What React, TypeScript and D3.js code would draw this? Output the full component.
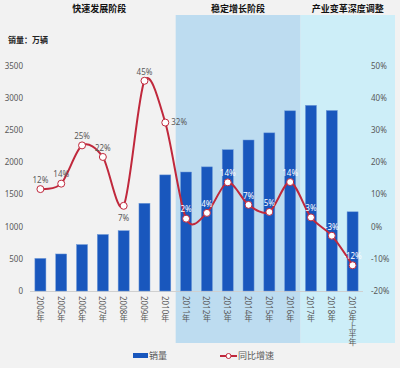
import React, { useEffect } from "react";
import * as d3 from "d3";

const years = ["2004年", "2005年", "2006年", "2007年", "2008年", "2009年", "2010年", "2011年", "2012年", "2013年", "2014年", "2015年", "2016年", "2017年", "2018年", "2019年上半年"];
const sales = [507, 576, 722, 879, 938, 1364, 1806, 1851, 1931, 2198, 2349, 2460, 2803, 2888, 2808, 1232];
const growth = [11.7, 13.4, 25.3, 21.7, 6.5, 45.4, 32.4, 2.5, 4.3, 13.8, 6.8, 4.6, 13.9, 2.9, -2.8, -12.0];
const growthLabels = ["12%", "14%", "25%", "22%", "7%", "45%", "32%", "2%", "4%", "14%", "7%", "5%", "14%", "3%", "-3%", "-12%"];
const leftTicks = [0, 500, 1000, 1500, 2000, 2500, 3000, 3500];
const rightTicks = [-20, -10, 0, 10, 20, 30, 40, 50];
const phases = [
  { name: "快速发展阶段", from: 0, to: 7 },
  { name: "稳定增长阶段", from: 7, to: 13 },
  { name: "产业变革深度调整", from: 13, to: 16 },
];

const W = 400, H = 368;
const plotL = 30, plotR = 363, plotT = 66, plotB = 291;
const font = "'Noto Sans', 'Noto Sans CJK SC', sans-serif";
const gray = "#595959";
const red = "#c0283c";

export default function App() {
  useEffect(() => {
    document.body.style.margin = "0";
  }, []);

  const x = d3.scaleBand().domain(years).range([plotL, plotR]).paddingInner(0.47).paddingOuter(0.235);
  const step = x.step();
  const yL = d3.scaleLinear().domain([0, 3500]).range([plotB, plotT]);
  const yR = d3.scaleLinear().domain([-20, 50]).range([plotB, plotT]);
  const cx = (i: number) => (x(years[i]) as number) + x.bandwidth() / 2;

  const line = d3
    .line<number>()
    .x((_, i) => cx(i))
    .y((d) => yR(d))
    .curve(d3.curveCardinal.tension(0.1));

  const edge = (i: number) => plotL + i * step;
  const phaseBox = (p: { from: number; to: number }, k: number) => {
    const x0 = k === 0 ? 23 : edge(p.from);
    const x1 = p.to === years.length ? plotR + 32 : edge(p.to);
    return [x0, x1];
  };

  const labelPos = (i: number) => {
    if (i === 4) return { dx: 0, dy: 12, anchor: "middle" };
    if (i === 6) return { dx: 6, dy: 0, anchor: "start" };
    return { dx: 0, dy: -9, anchor: "middle" };
  };

  return (
    <svg width={W} height={H} style={{ display: "block", fontFamily: font }}>
      <rect width={W} height={H} fill="#f2f2f2" />
      {phases.map((p, k) => {
        const [x0, x1] = phaseBox(p, k);
        return (
          <g key={p.name}>
            {k > 0 && (
              <rect x={x0} y={15} width={x1 - x0} height={328} fill={k === 1 ? "#bddcf0" : "#cdeef8"} />
            )}
            <text x={(x0 + x1) / 2} y={12} textAnchor="middle" fontSize={9} fontWeight="bold" fill="#111">
              {p.name}
            </text>
          </g>
        );
      })}

      <text x={8} y={43} fontSize={8} fontWeight="bold" fill="#222">销量：万辆</text>

      {leftTicks.map((t) => (
        <text key={t} x={23} y={yL(t)} dy="0.35em" textAnchor="end" fontSize={8} fill={gray}>{t}</text>
      ))}
      {rightTicks.map((t) => (
        <text key={t} x={371} y={yR(t)} dy="0.35em" textAnchor="start" fontSize={8} fill={gray}>{t}%</text>
      ))}

      <line x1={plotL} x2={plotR} y1={plotB + 0.5} y2={plotB + 0.5} stroke="#d0d0d0" />

      {sales.map((v, i) => (
        <rect
          key={years[i]}
          x={x(years[i])}
          y={yL(v)}
          width={x.bandwidth()}
          height={plotB - yL(v)}
          fill="#1957bd"
          stroke="#6f9ad8"
          strokeWidth={0.5}
        />
      ))}

      {years.map((y, i) => (
        <text
          key={y}
          x={cx(i)}
          y={plotB + 5}
          style={{ writingMode: "vertical-rl", textOrientation: "mixed" } as React.CSSProperties}
          fontSize={8}
          fill={gray}
        >
          {y}
        </text>
      ))}

      <path d={line(growth) as string} fill="none" stroke={red} strokeWidth={2} />
      {growth.map((g, i) => (
        <circle key={i} cx={cx(i)} cy={yR(g)} r={3.5} fill="#fff" stroke={red} strokeWidth={1} />
      ))}
      {growth.map((g, i) => {
        const p = labelPos(i);
        return (
          <text
            key={i}
            x={cx(i) + p.dx}
            y={yR(g) + p.dy}
            dy="0.35em"
            textAnchor={p.anchor}
            fontSize={8}
            fill={i >= 7 ? "#ffffff" : gray}
          >
            {growthLabels[i]}
          </text>
        );
      })}

      <g fontSize={9} fill={gray}>
        <rect x={133} y={353} width={15} height={5} fill="#1957bd" />
        <text x={149} y={356} dy="0.35em">销量</text>
        <line x1={220} x2={237} y1={356} y2={356} stroke={red} strokeWidth={2} />
        <circle cx={228.5} cy={356} r={2.5} fill="#fff" stroke={red} strokeWidth={1} />
        <text x={238} y={356} dy="0.35em">同比增速</text>
      </g>
    </svg>
  );
}
